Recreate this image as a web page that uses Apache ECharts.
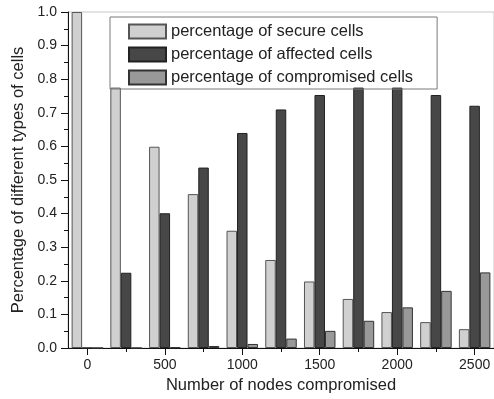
<!DOCTYPE html>
<html>
<head>
<meta charset="utf-8">
<script src="https://cdn.jsdelivr.net/npm/echarts@6/dist/echarts.min.js"></script>
<style>
  html, body { margin: 0; padding: 0; background: #fff; }
  #chart { width: 494px; height: 399px; }
</style>
</head>
<body>
<div id="chart"></div>
<script>
// data
var nodes = [0, 250, 500, 750, 1000, 1250, 1500, 1750, 2000, 2250, 2500];
var secure = [1.0, 0.775, 0.599, 0.458, 0.349, 0.262, 0.198, 0.146, 0.107, 0.077, 0.056];
var affected = [0, 0.224, 0.401, 0.537, 0.640, 0.710, 0.753, 0.775, 0.775, 0.753, 0.721];
var compromised = [0, 0, 0.002, 0.006, 0.012, 0.028, 0.051, 0.081, 0.121, 0.170, 0.225];
var xMajor = [0, 500, 1000, 1500, 2000, 2500];
var xMinor = [250, 750, 1250, 1750, 2250];
var names = ['percentage of secure cells', 'percentage of affected cells', 'percentage of compromised cells'];

var font = '"Liberation Sans", Arial, sans-serif';

function pairs(vals) {
  var out = [];
  for (var i = 0; i < nodes.length; i++) out.push([nodes[i], vals[i]]);
  return out;
}

function barSeries(name, vals, fill, edge) {
  return {
    name: name,
    type: 'bar',
    data: pairs(vals),
    barWidth: 10.5,
    barGap: '0%',
    itemStyle: { color: fill, borderColor: edge, borderWidth: 1 },
    emphasis: { disabled: true }
  };
}

var chart = echarts.init(document.getElementById('chart'));
chart.setOption({
  animation: false,
  textStyle: { fontFamily: font },
  grid: {
    left: 68, top: 12, bottom: 51, right: -11,
    show: true, borderColor: '#c8c8c8', borderWidth: 1
  },
  legend: {
    data: names,
    orient: 'vertical',
    left: 110, top: 17,
    itemWidth: 37, itemHeight: 14, itemGap: 6,
    padding: [6, 24, 3, 18],
    borderColor: '#7a7a7a', borderWidth: 1,
    icon: 'rect',
    selectedMode: false,
    textStyle: { fontSize: 16.5, color: '#222', lineHeight: 14, fontFamily: font }
  },
  xAxis: [{
    type: 'value',
    min: -125, max: 2625,
    name: 'Number of nodes compromised',
    nameLocation: 'middle',
    nameGap: 28,
    nameTextStyle: { fontSize: 16.5, color: '#222', fontFamily: font },
    splitLine: { show: false },
    axisLine: { onZero: false, lineStyle: { color: '#111', width: 1 } },
    axisTick: { customValues: xMajor, inside: false, length: 7, lineStyle: { color: '#111' } },
    axisLabel: {
      customValues: xMajor, margin: 10, fontSize: 14, color: '#222', fontFamily: font,
      formatter: function (v) { return String(v); }
    }
  }, {
    type: 'value',
    min: -125, max: 2625,
    position: 'bottom',
    splitLine: { show: false },
    axisLine: { show: false, onZero: false },
    axisTick: { customValues: xMinor, inside: false, length: 4, lineStyle: { color: '#111' } },
    axisLabel: { show: false }
  }],
  yAxis: {
    type: 'value',
    min: 0, max: 1, interval: 0.1,
    name: 'Percentage of different types of cells',
    nameLocation: 'middle',
    nameGap: 40,
    nameTextStyle: { fontSize: 16.5, color: '#222', fontFamily: font },
    splitLine: { show: false },
    axisLine: { show: true, onZero: false, lineStyle: { color: '#111', width: 1 } },
    axisTick: { show: true, inside: false, length: 7, lineStyle: { color: '#111' } },
    minorTick: { show: true, splitNumber: 2, length: 4, lineStyle: { color: '#111' } },
    minorSplitLine: { show: false },
    axisLabel: {
      margin: 11, fontSize: 14, color: '#222', fontFamily: font,
      formatter: function (v) { return v.toFixed(1); }
    }
  },
  series: [
    barSeries(names[0], secure, '#d0d0d0', '#555'),
    barSeries(names[1], affected, '#474747', '#222'),
    barSeries(names[2], compromised, '#999999', '#333')
  ]
});
</script>
</body>
</html>
